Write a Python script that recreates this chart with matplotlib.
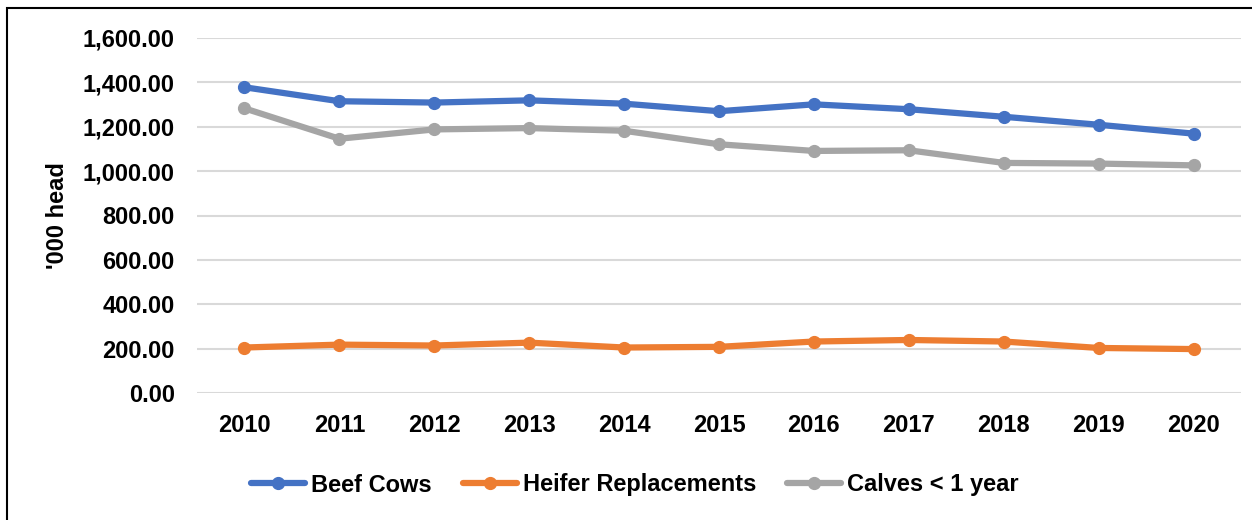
import matplotlib.pyplot as plt
from matplotlib.patches import Rectangle
from matplotlib.ticker import FuncFormatter

years = ['2010', '2011', '2012', '2013', '2014', '2015',
         '2016', '2017', '2018', '2019', '2020']

beef_cows = [1378, 1315, 1309, 1319, 1304, 1270, 1301, 1279, 1245, 1209, 1169]
heifer_replacements = [205, 218, 214, 227, 205, 208, 232, 239, 232, 203, 198]
calves = [1283, 1146, 1188, 1194, 1182, 1121, 1091, 1094, 1037, 1034, 1026]

series_names = ['Beef Cows', 'Heifer Replacements', 'Calves < 1 year']
colors = ['#4472C4', '#ED7D31', '#A5A5A5']

plt.rcParams['font.family'] = ['Liberation Sans', 'DejaVu Sans']
plt.rcParams['font.weight'] = 'bold'
plt.rcParams['font.size'] = 17

fig = plt.figure(figsize=(12.52, 5.2), dpi=100)
ax = fig.add_axes([197 / 1252, 1 - 393 / 520, (1241 - 197) / 1252, (393 - 38) / 520])

x = list(range(len(years)))
for vals, name, col in zip([beef_cows, heifer_replacements, calves], series_names, colors):
    ax.plot(x, vals, color=col, lw=4.5, marker='o', markersize=8.5,
            label=name, solid_capstyle='round', zorder=3)

ax.set_xlim(-0.5, len(years) - 0.5)
ax.set_ylim(0, 1600)
ax.set_yticks(range(0, 1601, 200))
ax.yaxis.set_major_formatter(FuncFormatter(lambda v, p: '{:,.2f}'.format(v)))
ax.set_xticks(x)
ax.set_xticklabels(years)

ax.grid(axis='y', color='#D9D9D9', lw=1.5, zorder=0)
for s in ax.spines.values():
    s.set_visible(False)
ax.tick_params(axis='both', length=0)
ax.tick_params(axis='x', pad=15)
ax.tick_params(axis='y', pad=16)

fig.text(58 / 1252, 1 - 216 / 520, "'000 head", rotation=90,
         ha='center', va='center', fontweight='bold', fontsize=17)

fig.legend(loc='center', bbox_to_anchor=(635 / 1252, 1 - 485 / 520), ncol=3,
           frameon=False, handlelength=2.3, handletextpad=0.25,
           columnspacing=1.3, prop={'weight': 'bold', 'size': 17})

# outer border (only left/top visible in the crop)
fig.patches.append(Rectangle((7 / 1252, -0.2), 2, 1.2 - 8 / 520,
                             transform=fig.transFigure, fill=False,
                             edgecolor='black', lw=1.5, clip_on=False))

fig.savefig('out.png', dpi=100)
